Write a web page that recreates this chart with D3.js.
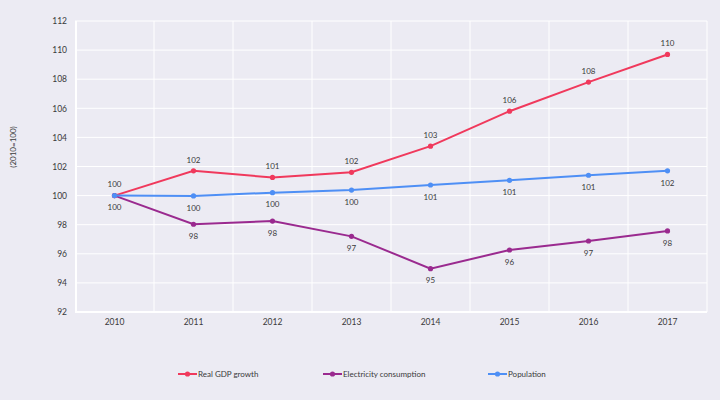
<!DOCTYPE html>
<html><head><meta charset="utf-8">
<script src="https://cdn.jsdelivr.net/npm/d3@7/dist/d3.min.js"></script>
<style>
html,body{margin:0;padding:0;background:#ecebf3;}
svg{display:block;font-family:Lato,"Open Sans",sans-serif;}
</style></head>
<body><svg id="c" width="720" height="400"></svg>
<script>
const years = ["2010","2011","2012","2013","2014","2015","2016","2017"];
const gdp = [100, 101.7, 101.25, 101.6, 103.4, 105.8, 107.8, 109.7];
const electricity = [100, 98.03, 98.25, 97.2, 94.98, 96.26, 96.88, 97.57];
const population = [100, 99.98, 100.2, 100.38, 100.73, 101.05, 101.4, 101.7];
const gdpLabels = ["100","102","101","102","103","106","108","110"];
const elecLabels = ["100","98","98","97","95","96","97","98"];
const popLabels = ["","100","100","100","101","101","101","102"];
const yTicks = [92,94,96,98,100,102,104,106,108,110,112];
const seriesNames = ["Real GDP growth","Electricity consumption","Population"];
const colors = ["#f0395c","#9a2a8f","#4e8ff5"];

const svg = d3.select("#c");
const mLeft = 75, mRight = 707, mTop = 21, mBottom = 312;
const x = d3.scaleBand().domain(years).range([mLeft, mRight]).padding(0);
const y = d3.scaleLinear().domain([92,112]).range([mBottom, mTop]);
const txt = "#3a3a3a";

svg.append("g").selectAll("line").data(yTicks).join("line")
  .attr("x1", mLeft).attr("x2", mRight)
  .attr("y1", d=>y(d)).attr("y2", d=>y(d))
  .attr("stroke", "#ffffff").attr("stroke-width", 1);
const bounds = years.slice(1).map(d=>x(d)).concat([mRight]);
svg.append("g").selectAll("line").data(bounds).join("line")
  .attr("x1", d=>d).attr("x2", d=>d)
  .attr("y1", mTop).attr("y2", mBottom)
  .attr("stroke", "#ffffff").attr("stroke-width", 1);
svg.append("line").attr("x1", mLeft+1).attr("x2", mLeft+1).attr("y1", mTop).attr("y2", mBottom)
  .attr("stroke", "#ffffff").attr("stroke-width", 2);
svg.append("line").attr("x1", mLeft).attr("x2", mRight).attr("y1", mBottom).attr("y2", mBottom)
  .attr("stroke", "#ffffff").attr("stroke-width", 2);

const yAxis = d3.axisLeft(y).tickValues(yTicks).tickSize(0).tickPadding(8);
const gy = svg.append("g").attr("transform", `translate(${mLeft},0)`).call(yAxis);
gy.select(".domain").remove();
gy.selectAll("text").attr("font-size", 8.5).attr("fill", txt).attr("font-family","Lato,'Open Sans',sans-serif");

const xAxis = d3.axisBottom(x).tickSize(0).tickPadding(7);
const gx = svg.append("g").attr("transform", `translate(0,${mBottom})`).call(xAxis);
gx.select(".domain").remove();
gx.selectAll("text").attr("font-size", 8.5).attr("fill", txt).attr("font-family","Lato,'Open Sans',sans-serif");

svg.append("text").attr("transform", "translate(16,147) rotate(-90)")
  .attr("text-anchor","middle").attr("font-size", 8).attr("fill",txt).text("(2010=100)");

const cx = d => x(d) + x.bandwidth()/2;
const line = d3.line().x((d,i)=>cx(years[i])).y(d=>y(d));
const data = [gdp, electricity, population];
const labels = [gdpLabels, elecLabels, popLabels];
const offsets = [-11, 12, 12];

data.forEach((vals, s) => {
  const g = svg.append("g");
  g.append("path").datum(vals).attr("d", line).attr("fill","none")
    .attr("stroke", colors[s]).attr("stroke-width", 2);
  g.selectAll("circle").data(vals).join("circle")
    .attr("cx",(d,i)=>cx(years[i])).attr("cy", d=>y(d)).attr("r", 2.6)
    .attr("fill", colors[s]);
});
data.forEach((vals, s) => {
  svg.append("g").selectAll("text").data(vals).join("text")
    .attr("x",(d,i)=>cx(years[i])).attr("y", d=>y(d)+offsets[s])
    .attr("dy","0.35em").attr("text-anchor","middle")
    .attr("font-size", 8).attr("fill",txt)
    .text((d,i)=>labels[s][i]);
});

const legendX = [178, 323, 488];
const legendY = 374;
seriesNames.forEach((n, s) => {
  const g = svg.append("g").attr("transform", `translate(${legendX[s]},${legendY})`);
  g.append("line").attr("x1",0).attr("x2",19).attr("y1",0).attr("y2",0)
    .attr("stroke", colors[s]).attr("stroke-width", 2);
  g.append("circle").attr("cx", 9.5).attr("cy",0).attr("r",2.6).attr("fill", colors[s]);
  g.append("text").attr("x", 20).attr("y",0).attr("dy","0.35em")
    .attr("font-size", 8).attr("fill",txt).text(n);
});
</script></body></html>
